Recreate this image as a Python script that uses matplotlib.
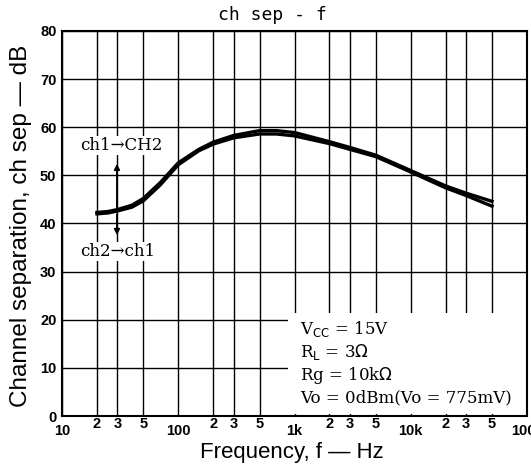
import matplotlib
matplotlib.use("Agg")
import matplotlib.pyplot as plt
from matplotlib.ticker import FixedLocator, FixedFormatter
from matplotlib.patches import Rectangle

# data
freq = [20, 25, 30, 40, 50, 70, 100, 150, 200, 300, 500, 700, 1000,
        2000, 3000, 5000, 10000, 20000, 30000, 50000]
ch1_ch2 = [42.3, 42.5, 42.9, 43.8, 45.2, 48.5, 52.6, 55.4, 56.9, 58.3, 59.3,
           59.3, 58.9, 57.0, 55.8, 54.2, 51.0, 47.8, 46.3, 44.6]
ch2_ch1 = [42.0, 42.2, 42.6, 43.4, 44.7, 48.0, 52.2, 55.1, 56.5, 57.8, 58.6,
           58.6, 58.2, 56.6, 55.4, 53.9, 50.7, 47.4, 45.8, 43.6]

major_f = [10, 100, 1000, 10000, 100000]
major_lbl = ["10", "100", "1k", "10k", "100k"]
minor_f = [20, 30, 50, 200, 300, 500, 2000, 3000, 5000, 20000, 30000, 50000]
minor_lbl = ["2", "3", "5"] * 4
y_ticks = [0, 10, 20, 30, 40, 50, 60, 70, 80]

conditions = [r"V$_{\rm CC}$ = 15V", r"R$_{\rm L}$ = 3$\Omega$",
              r"Rg = 10k$\Omega$", "Vo = 0dBm(Vo = 775mV)"]

fig = plt.figure(figsize=(5.31, 4.69), dpi=100)
ax = fig.add_axes([62/531, 53/469, 465/531, 385/469])

ax.set_xscale("log")
ax.set_xlim(10, 100000)
ax.set_ylim(0, 80)

ax.xaxis.set_major_locator(FixedLocator(major_f))
ax.xaxis.set_major_formatter(FixedFormatter(major_lbl))
ax.xaxis.set_minor_locator(FixedLocator(minor_f))
ax.xaxis.set_minor_formatter(FixedFormatter(minor_lbl))
ax.set_yticks(y_ticks)

ax.tick_params(axis="both", which="both", length=0)
ax.tick_params(axis="x", which="major", pad=6, labelsize=10.5)
ax.tick_params(axis="x", which="minor", pad=1, labelsize=10.5)
ax.tick_params(axis="y", pad=4, labelsize=10.5)
for lab in ax.get_xticklabels(which="both") + ax.get_yticklabels():
    lab.set_fontweight("bold")
    lab.set_family("Liberation Sans")

ax.grid(True, which="both", color="black", lw=1.0)
ax.set_axisbelow(True)
for sp in ax.spines.values():
    sp.set_linewidth(1.5)

# white area behind the conditions text hides the grid
ax.add_patch(Rectangle((0.486, 0.004), 0.514, 0.264, transform=ax.transAxes,
                       facecolor="white", edgecolor="none", zorder=1.5))

ax.plot(freq, ch1_ch2, color="black", lw=2.4, zorder=3)
ax.plot(freq, ch2_ch1, color="black", lw=2.4, zorder=3)

# double arrow and channel labels
ax.annotate("", xy=(29.7, 53), xytext=(29.7, 42.5),
            arrowprops=dict(arrowstyle="-|>", color="black", lw=1.3, mutation_scale=8), zorder=4)
ax.annotate("", xy=(29.7, 37), xytext=(29.7, 42.5),
            arrowprops=dict(arrowstyle="-|>", color="black", lw=1.3, mutation_scale=8), zorder=4)
ax.text(14.3, 56.2, "ch1→CH2", family="DejaVu Serif", fontsize=12, va="center",
        bbox=dict(facecolor="white", edgecolor="none", pad=1), zorder=4)
ax.text(14.3, 34.2, "ch2→ch1", family="DejaVu Serif", fontsize=12, va="center",
        bbox=dict(facecolor="white", edgecolor="none", pad=1), zorder=4)

for i, txt in enumerate(conditions):
    fig.text(300/531, 1 - (329 + 23*i)/469, txt, family="DejaVu Serif",
             fontsize=12, va="center", ha="left")

fig.text(272/531, 1 - 15/469, "ch sep - f", family="DejaVu Sans Mono",
         fontsize=13, ha="center", va="center")
fig.text(21/531, 1 - 226/469, "Channel separation, ch sep — dB", family="Liberation Sans",
         fontsize=17.5, rotation=90, ha="center", va="center")
fig.text(292/531, 1 - 452/469, "Frequency, f — Hz", family="Liberation Sans",
         fontsize=16, ha="center", va="center")

fig.savefig("out.png", dpi=100)
